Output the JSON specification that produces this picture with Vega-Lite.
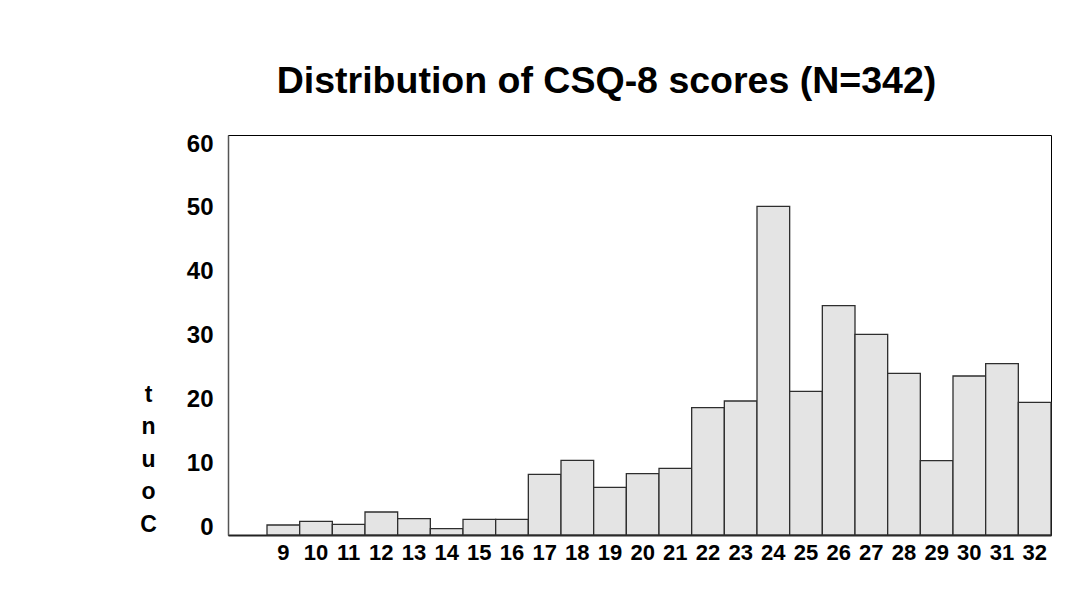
{
  "$schema": "https://vega.github.io/schema/vega-lite/v6.json",
  "width": 823,
  "height": 400,
  "autosize": "none",
  "padding": {"left": 228, "top": 135, "right": 26, "bottom": 63},
  "background": "white",
  "title": {
    "text": "Distribution of CSQ-8 scores (N=342)",
    "font": "Liberation Sans",
    "fontSize": 37.5,
    "fontWeight": "bold",
    "color": "black",
    "anchor": "middle",
    "baseline": "alphabetic",
    "dx": -33,
    "dy": 29,
    "offset": 31
  },
  "data": {
    "values": [
      {"score": 9, "count": 1.5},
      {"score": 10, "count": 2.05},
      {"score": 11, "count": 1.6},
      {"score": 12, "count": 3.45},
      {"score": 13, "count": 2.45},
      {"score": 14, "count": 0.95},
      {"score": 15, "count": 2.35},
      {"score": 16, "count": 2.35},
      {"score": 17, "count": 9.1},
      {"score": 18, "count": 11.2},
      {"score": 19, "count": 7.15},
      {"score": 20, "count": 9.2},
      {"score": 21, "count": 10.0},
      {"score": 22, "count": 19.1},
      {"score": 23, "count": 20.1},
      {"score": 24, "count": 49.3},
      {"score": 25, "count": 21.55},
      {"score": 26, "count": 34.4},
      {"score": 27, "count": 30.1},
      {"score": 28, "count": 24.25},
      {"score": 29, "count": 11.15},
      {"score": 30, "count": 23.85},
      {"score": 31, "count": 25.7},
      {"score": 32, "count": 19.9}
    ]
  },
  "encoding": {
    "x": {
      "field": "score",
      "type": "ordinal",
      "scale": {"paddingInner": 0, "paddingOuter": 0.597, "align": 1},
      "axis": {
        "title": null,
        "labelAngle": 0,
        "ticks": false,
        "domainColor": "#222222",
        "domainWidth": 2,
        "labelFont": "Liberation Sans",
        "labelFontSize": 22,
        "labelFontWeight": "bold",
        "labelColor": "black",
        "labelPadding": 7
      }
    }
  },
  "layer": [
    {
      "mark": {"type": "bar", "fill": "#e4e4e4", "stroke": "#2e2e2e", "strokeWidth": 1.3},
      "encoding": {
        "y": {
          "field": "count",
          "type": "quantitative",
          "scale": {"domain": [0, 60], "nice": false},
          "axis": {
            "orient": "left",
            "labels": false,
            "ticks": false,
            "grid": false,
            "title": null,
            "domainColor": "#555555",
            "domainWidth": 1.5
          }
        }
      }
    },
    {
      "mark": {"type": "tick", "opacity": 0},
      "encoding": {
        "y": {
          "field": "count",
          "type": "quantitative",
          "scale": {"domain": [-1.253, 61.41], "nice": false, "zero": false},
          "axis": {
            "orient": "left",
            "values": [0, 10, 20, 30, 40, 50, 60],
            "domain": false,
            "ticks": false,
            "grid": false,
            "labelFont": "Liberation Sans",
            "labelFontSize": 24,
            "labelFontWeight": "bold",
            "labelColor": "black",
            "labelPadding": 15,
            "title": ["t", "n", "u", "o", "C"],
            "titleAngle": 0,
            "titleX": -80,
            "titleY": 266,
            "titleAlign": "center",
            "titleBaseline": "alphabetic",
            "titleFont": "Liberation Sans",
            "titleFontSize": 23,
            "titleFontWeight": "bold",
            "titleColor": "black",
            "titleLineHeight": 32.5
          }
        }
      }
    }
  ],
  "resolve": {"scale": {"y": "independent"}, "axis": {"y": "independent"}},
  "config": {"view": {"stroke": "black", "strokeWidth": 1}}
}
